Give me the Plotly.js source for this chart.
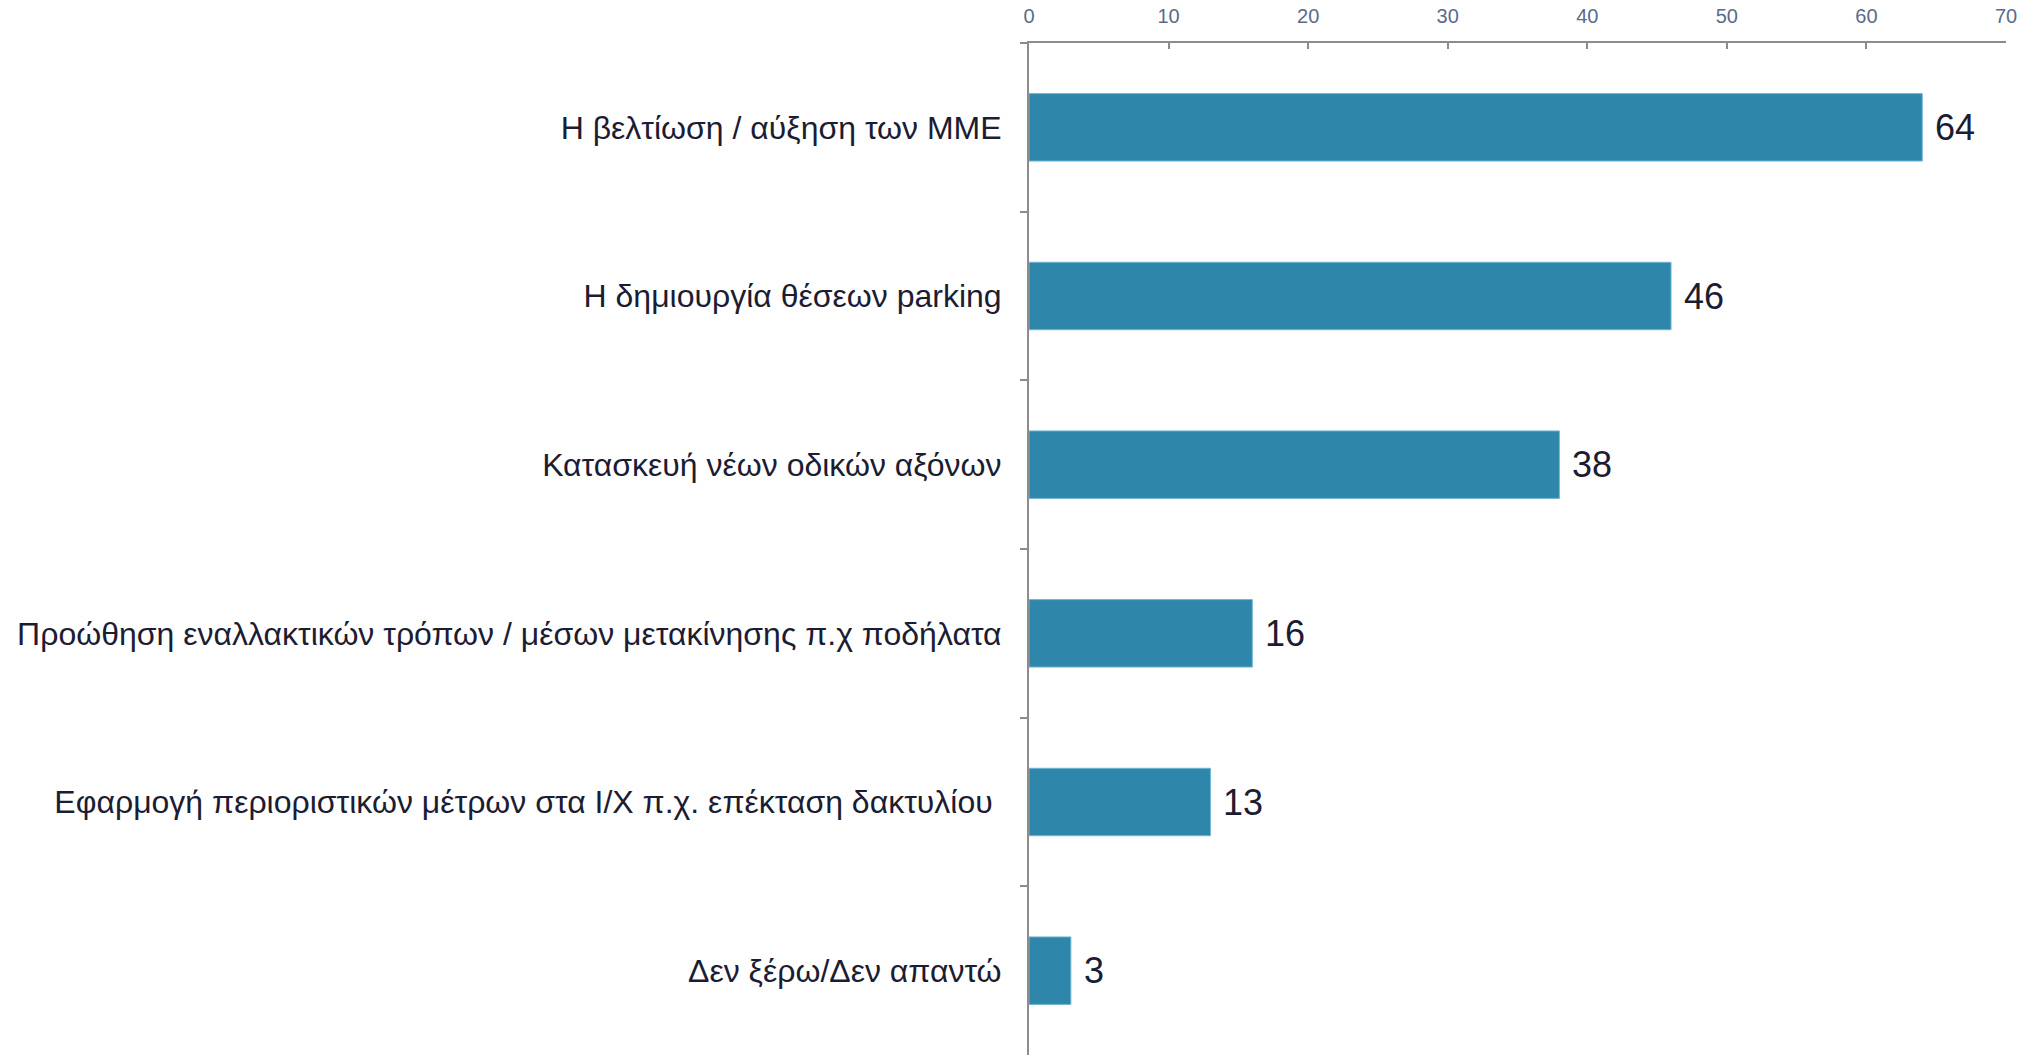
<!DOCTYPE html>
<html>
<head>
<meta charset="utf-8">
<script src="https://cdn.plot.ly/plotly-3.0.1.min.js"></script>
<style>
  html, body { margin: 0; padding: 0; background: #ffffff; }
  #chart { width: 2026px; height: 1055px; }
</style>
</head>
<body>
<div id="chart"></div>
<script>
// Survey answers (%), top to bottom
const categories = [
  'Η βελτίωση / αύξηση των ΜΜΕ',
  'Η δημιουργία θέσεων parking',
  'Κατασκευή νέων οδικών αξόνων',
  'Προώθηση εναλλακτικών τρόπων / μέσων μετακίνησης π.χ ποδήλατα',
  'Εφαρμογή περιοριστικών μέτρων στα Ι/Χ π.χ. επέκταση δακτυλίου\u00a0',
  'Δεν ξέρω/Δεν απαντώ'
];
const values = [64, 46, 38, 16, 13, 3];
const xTicks = [0, 10, 20, 30, 40, 50, 60, 70];

const barColor = '#2e87aa';
const axisColor = '#8c8c8c';
const textColor = '#1c1c33';

const trace = {
  type: 'bar',
  orientation: 'h',
  x: values,
  y: categories,
  marker: { color: barColor, line: { color: '#6fb6d3', width: 1 } },
  hoverinfo: 'x+y',
  showlegend: false
};

// value labels placed just right of each bar end
const annotations = values.map((v, i) => ({
  x: v,
  y: categories[i],
  xref: 'x',
  yref: 'y',
  text: String(v),
  showarrow: false,
  xanchor: 'left',
  yanchor: 'middle',
  xshift: 11,
  font: { family: 'Liberation Sans, Arial, sans-serif', size: 36, color: textColor }
}));

const layout = {
  width: 2026,
  height: 1055,
  margin: { l: 1029, r: 20, t: 43, b: 0 },
  paper_bgcolor: '#ffffff',
  plot_bgcolor: '#ffffff',
  bargap: 0.6,
  xaxis: {
    side: 'top',
    range: [0, 70],
    tickvals: xTicks,
    ticktext: xTicks.map(String),
    showgrid: false,
    zeroline: false,
    showline: true,
    linecolor: axisColor,
    linewidth: 2,
    ticks: 'inside',
    ticklen: 6,
    tickwidth: 2,
    tickcolor: axisColor,
    ticklabelstandoff: 10,
    tickfont: { family: 'Liberation Sans, Arial, sans-serif', size: 20, color: '#5b6b8a' },
    fixedrange: true
  },
  yaxis: {
    type: 'category',
    categoryorder: 'array',
    categoryarray: categories,
    autorange: 'reversed',
    showgrid: false,
    zeroline: false,
    showline: true,
    linecolor: axisColor,
    linewidth: 2,
    ticks: 'outside',
    tickson: 'boundaries',
    ticklen: 7,
    tickwidth: 2,
    tickcolor: axisColor,
    ticklabelstandoff: 19,
    tickfont: { family: 'Liberation Sans, Arial, sans-serif', size: 32, color: textColor },
    fixedrange: true
  },
  annotations: annotations
};

Plotly.newPlot('chart', [trace], layout, { displayModeBar: false, staticPlot: true });
</script>
</body>
</html>
